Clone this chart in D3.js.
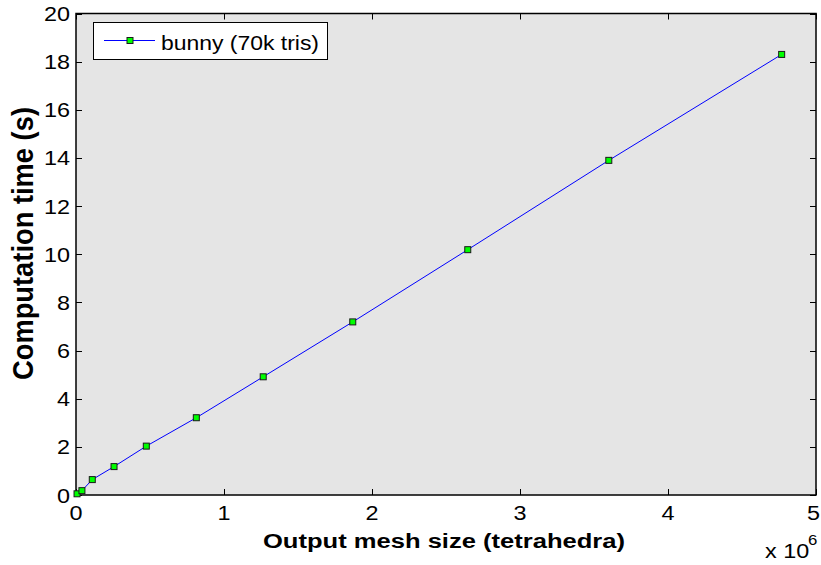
<!DOCTYPE html>
<html>
<head>
<meta charset="utf-8">
<script src="https://cdn.jsdelivr.net/npm/d3@7/dist/d3.min.js"></script>
<style>
  html, body { margin: 0; padding: 0; background: #fff; }
  svg { display: block; font-family: "Liberation Sans", Arial, sans-serif; }
</style>
</head>
<body>
<svg id="chart" width="821" height="565"></svg>
<script>
// Mesh size (millions of tetrahedra) vs computation time (seconds)
const meshSize = [0.007, 0.04, 0.11, 0.257, 0.475, 0.813, 1.265, 1.87, 2.647, 3.60, 4.768];
const compTime = [0.05, 0.18, 0.64, 1.18, 2.03, 3.21, 4.91, 7.19, 10.19, 13.90, 18.30];
const seriesName = "bunny (70k tris)";
const xTicks = [0, 1, 2, 3, 4, 5];
const yTicks = [0, 2, 4, 6, 8, 10, 12, 14, 16, 18, 20];

const svg = d3.select("#chart");
const L = 76, R = 816, T = 13.5, B = 495;
const SX = 1.2; // horizontal widening of the lettering

const x = d3.scaleLinear().domain([0, 5]).range([L, R]);
const y = d3.scaleLinear().domain([0, 20]).range([B, T]);

// text placed at (px,py) and widened horizontally
function wideText(parent, px, py, str, size, anchor, weight) {
  return parent.append("text")
    .attr("transform", `translate(${px},${py}) scale(${SX},1)`)
    .attr("text-anchor", anchor || "start")
    .attr("font-size", size)
    .attr("font-weight", weight || "normal")
    .attr("fill", "#000")
    .text(str);
}

// plot background
svg.append("rect")
  .attr("x", L).attr("y", T).attr("width", R - L).attr("height", B - T)
  .attr("fill", "#e5e5e5");

const tickLen = 6;
// inward ticks on all four sides
const g = svg.append("g").attr("stroke", "#000").attr("stroke-width", 1);
xTicks.forEach(t => {
  const px = Math.round(x(t)) + 0.5;
  g.append("line").attr("x1", px).attr("x2", px).attr("y1", B).attr("y2", B - tickLen);
  g.append("line").attr("x1", px).attr("x2", px).attr("y1", T).attr("y2", T + tickLen);
});
yTicks.forEach(t => {
  const py = Math.round(y(t)) + 0.5;
  g.append("line").attr("x1", L).attr("x2", L + tickLen).attr("y1", py).attr("y2", py);
  g.append("line").attr("x1", R).attr("x2", R - tickLen).attr("y1", py).attr("y2", py);
});

// tick labels (the last one kept inside the page edge)
const tl = svg.append("g");
xTicks.forEach((t, i) => {
  const last = i === xTicks.length - 1;
  wideText(tl, last ? 820 : x(t), 520, t, 19.5, last ? "end" : "middle");
});
yTicks.forEach(t => wideText(tl, L - 6, y(t) + 7.5, t, 19.5, "end"));

// axis box
svg.append("rect")
  .attr("x", L).attr("y", T).attr("width", R - L).attr("height", B - T)
  .attr("fill", "none").attr("stroke", "#000").attr("stroke-width", 1.5);

// exponent note
const ex = svg.append("text")
  .attr("transform", `translate(765,558) scale(${SX},1)`)
  .attr("font-size", 19.5).attr("fill", "#000");
ex.append("tspan").text("x 10");
ex.append("tspan").attr("dx", -1).attr("dy", -13).attr("font-size", 14).text("6");

// axis titles
svg.append("text")
  .attr("x", 263).attr("y", 547.5)
  .attr("font-size", 20).attr("font-weight", "bold")
  .attr("textLength", 362).attr("lengthAdjust", "spacingAndGlyphs")
  .text("Output mesh size (tetrahedra)");
svg.append("text")
  .attr("transform", `translate(33,380) scale(${SX},1) rotate(-90)`)
  .attr("font-size", 24).attr("font-weight", "bold")
  .attr("textLength", 273).attr("lengthAdjust", "spacingAndGlyphs")
  .text("Computation time (s)");

// data series
const data = meshSize.map((m, i) => ({ m, t: compTime[i] }));
svg.append("path").datum(data)
  .attr("fill", "none").attr("stroke", "#0000ff").attr("stroke-width", 1)
  .attr("d", d3.line().x(d => x(d.m)).y(d => y(d.t)));

const ms = 6;
svg.append("g").selectAll("rect").data(data).join("rect")
  .attr("x", d => x(d.m) - ms / 2).attr("y", d => y(d.t) - ms / 2)
  .attr("width", ms).attr("height", ms)
  .attr("fill", "#00ff00").attr("stroke", "#1a1a1a").attr("stroke-width", 1);

// legend
const lg = svg.append("g");
lg.append("rect").attr("x", 93.5).attr("y", 22.5).attr("width", 234).attr("height", 37)
  .attr("fill", "#fff").attr("stroke", "#000").attr("stroke-width", 1);
lg.append("line").attr("x1", 104).attr("x2", 155).attr("y1", 40.5).attr("y2", 40.5)
  .attr("stroke", "#0000ff").attr("stroke-width", 1);
lg.append("rect").attr("x", 130 - ms / 2).attr("y", 40.5 - ms / 2).attr("width", ms).attr("height", ms)
  .attr("fill", "#00ff00").attr("stroke", "#1a1a1a").attr("stroke-width", 1);
lg.append("text").attr("x", 161).attr("y", 49.5)
  .attr("font-size", 20).attr("fill", "#000")
  .attr("textLength", 158).attr("lengthAdjust", "spacingAndGlyphs")
  .text(seriesName);
</script>
</body>
</html>
